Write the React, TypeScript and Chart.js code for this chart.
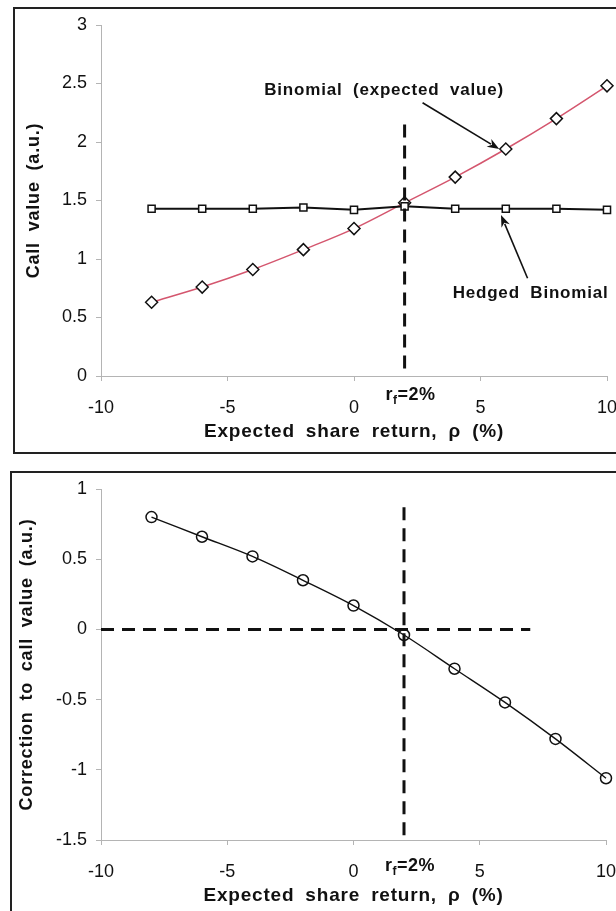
import { useEffect, useRef } from "react";
import { Chart, registerables } from "chart.js";

Chart.register(...registerables);

// Expected share return (%) at which each tree was evaluated
const returns = [-8, -6, -4, -2, 0, 2, 4, 6, 8, 10];
// Call value from the plain binomial tree (expected value)
const binomialExpected = [0.63, 0.76, 0.91, 1.08, 1.26, 1.48, 1.7, 1.94, 2.2, 2.48];
// Call value from the hedged binomial tree
const hedgedBinomial = [1.43, 1.43, 1.43, 1.44, 1.42, 1.45, 1.43, 1.43, 1.43, 1.42];
// Correction to the call value
const correction = [0.8, 0.66, 0.52, 0.35, 0.17, -0.04, -0.28, -0.52, -0.78, -1.06];

const riskFreeRate = 2;
const xTicks = [-10, -5, 0, 5, 10];
const callTicks = [0, 0.5, 1, 1.5, 2, 2.5, 3];
const correctionTicks = [-1.5, -1, -0.5, 0, 0.5, 1];

// Guide lines in data units
const callRateGuide = [2.15, 0.05];
const correctionRateGuide = [0.87, -1.5];
const correctionZeroGuide = [-10, 7];

// Call-out labels with arrows: text centre, arrow tail, arrow tip (data units)
const callNotes = [
  { text: "Binomial (expected value)", at: [1.19, 2.44], from: [2.71, 2.335], to: [5.74, 1.94] },
  { text: "Hedged Binomial", at: [6.98, 0.71], from: [6.86, 0.835], to: [5.81, 1.376] },
];

const FONT = "'Liberation Sans', Arial, Helvetica, sans-serif";
const AXIS_GREY = "#b4b4b4";

type Note = { text: string; at: number[]; from: number[]; to: number[] };

const spacingPlugin = {
  id: "titleSpacing",
  beforeDraw(chart: any) {
    const ctx = chart.ctx as any;
    ctx.letterSpacing = "0.8px";
    ctx.wordSpacing = "5px";
  },
  beforeDatasetsDraw(chart: any) {
    const ctx = chart.ctx as any;
    ctx.letterSpacing = "0px";
    ctx.wordSpacing = "0px";
  },
};

function makeNotesPlugin(notes: Note[], rateLabelGap: number) {
  return {
    id: "notes",
    afterDraw(chart: any) {
      const ctx = chart.ctx as any;
      const xs = chart.scales.x;
      const ys = chart.scales.y;
      ctx.save();
      ctx.letterSpacing = "0.8px";
      ctx.wordSpacing = "5px";
      ctx.fillStyle = "#111";
      ctx.strokeStyle = "#111";
      ctx.font = `bold 17px ${FONT}`;
      ctx.textAlign = "center";
      ctx.textBaseline = "middle";
      for (const n of notes) {
        ctx.fillText(n.text, xs.getPixelForValue(n.at[0]), ys.getPixelForValue(n.at[1]));
        const x0 = xs.getPixelForValue(n.from[0]);
        const y0 = ys.getPixelForValue(n.from[1]);
        const x1 = xs.getPixelForValue(n.to[0]);
        const y1 = ys.getPixelForValue(n.to[1]);
        const ang = Math.atan2(y1 - y0, x1 - x0);
        const len = 12;
        const half = 4.5;
        ctx.lineWidth = 1.6;
        ctx.beginPath();
        ctx.moveTo(x0, y0);
        ctx.lineTo(x1 - Math.cos(ang) * len * 0.8, y1 - Math.sin(ang) * len * 0.8);
        ctx.stroke();
        ctx.beginPath();
        ctx.moveTo(x1, y1);
        ctx.lineTo(
          x1 - Math.cos(ang) * len - Math.sin(ang) * half,
          y1 - Math.sin(ang) * len + Math.cos(ang) * half
        );
        ctx.lineTo(x1 - Math.cos(ang) * len * 0.7, y1 - Math.sin(ang) * len * 0.7);
        ctx.lineTo(
          x1 - Math.cos(ang) * len + Math.sin(ang) * half,
          y1 - Math.sin(ang) * len - Math.cos(ang) * half
        );
        ctx.closePath();
        ctx.fill();
      }
      // r_f = 2% marker under the axis
      ctx.letterSpacing = "0.5px";
      ctx.wordSpacing = "0px";
      ctx.textAlign = "left";
      ctx.textBaseline = "alphabetic";
      const big = `bold 18px ${FONT}`;
      const small = `bold 12px ${FONT}`;
      ctx.font = big;
      const wr = ctx.measureText("r").width;
      const wrest = ctx.measureText("=2%").width;
      ctx.font = small;
      const wf = ctx.measureText("f").width;
      const total = wr + wf + wrest;
      let x = xs.getPixelForValue(riskFreeRate) + 6 - total / 2;
      const base = ys.bottom + rateLabelGap;
      ctx.font = big;
      ctx.fillText("r", x, base);
      x += wr;
      ctx.font = small;
      ctx.fillText("f", x, base + 4);
      x += wf;
      ctx.font = big;
      ctx.fillText("=2%", x, base);
      ctx.restore();
    },
  };
}

const plainNumber = (v: number | string) => String(v);

function xScale(titlePadBottom: number, height: number) {
  return {
    type: "linear" as const,
    min: -10,
    max: 10,
    afterFit: (s: any) => {
      s.height = height;
      s.paddingLeft = 0;
      s.paddingRight = 0;
    },
    afterBuildTicks: (s: any) => {
      s.ticks = xTicks.map((v) => ({ value: v }));
    },
    grid: { drawOnChartArea: false, drawTicks: true, tickLength: 5, color: AXIS_GREY },
    border: { display: true, color: AXIS_GREY, width: 1 },
    ticks: {
      color: "#111",
      font: { family: FONT, size: 18 },
      padding: 16,
      z: 1,
      maxRotation: 0,
      callback: plainNumber,
    },
    title: {
      display: true,
      text: "Expected share return, \u03c1 (%)",
      color: "#111",
      font: { family: FONT, size: 19, weight: "bold" as const },
      padding: { top: 0, bottom: titlePadBottom },
    },
  };
}

function yScale(min: number, max: number, ticks: number[], title: string, titlePadTop: number) {
  return {
    type: "linear" as const,
    min,
    max,
    afterFit: (s: any) => {
      s.width = 101;
      s.paddingTop = 0;
      s.paddingBottom = 0;
    },
    afterBuildTicks: (s: any) => {
      s.ticks = ticks.map((v) => ({ value: v }));
    },
    grid: { drawOnChartArea: false, drawTicks: true, tickLength: 5, color: AXIS_GREY },
    border: { display: true, color: AXIS_GREY, width: 1 },
    ticks: { color: "#111", font: { family: FONT, size: 18 }, padding: 9, z: 1, callback: plainNumber },
    title: {
      display: true,
      text: title,
      color: "#111",
      font: { family: FONT, size: 18, weight: "bold" as const },
      padding: { top: titlePadTop, bottom: 0 },
    },
  };
}

function pts(ys: number[]) {
  return returns.map((x, i) => ({ x, y: ys[i] }));
}

function guide(points: { x: number; y: number }[]) {
  return {
    data: points,
    borderColor: "#111",
    borderWidth: 3,
    borderDash: [13, 8],
    pointRadius: 0,
    showLine: true,
    tension: 0,
  };
}

function callConfig(): any {
  return {
    type: "scatter",
    data: {
      datasets: [
        guide([
          { x: riskFreeRate, y: callRateGuide[0] },
          { x: riskFreeRate, y: callRateGuide[1] },
        ]),
        {
          label: "Hedged Binomial",
          data: pts(hedgedBinomial),
          showLine: true,
          borderColor: "#111",
          borderWidth: 2,
          tension: 0,
          pointStyle: "rect",
          pointRadius: 5,
          pointBackgroundColor: "#fff",
          pointBorderColor: "#111",
          pointBorderWidth: 1.5,
        },
        {
          label: "Binomial (expected value)",
          data: pts(binomialExpected),
          showLine: true,
          borderColor: "#d4566e",
          borderWidth: 1.5,
          cubicInterpolationMode: "monotone",
          pointStyle: "rectRot",
          pointRadius: 6,
          pointBackgroundColor: "#fff",
          pointBorderColor: "#111",
          pointBorderWidth: 1.5,
        },
      ],
    },
    options: {
      responsive: false,
      animation: false,
      clip: false,
      layout: { padding: { left: 0, right: 9, top: 25, bottom: 0 } },
      plugins: { legend: { display: false }, tooltip: { enabled: false } },
      scales: {
        x: xScale(16.6, 84),
        y: yScale(0, 3, callTicks, "Call value (a.u.)", 23),
      },
    },
    plugins: [spacingPlugin, makeNotesPlugin(callNotes, 24)],
  };
}

function correctionConfig(): any {
  return {
    type: "scatter",
    data: {
      datasets: [
        guide([
          { x: riskFreeRate, y: correctionRateGuide[0] },
          { x: riskFreeRate, y: correctionRateGuide[1] },
        ]),
        guide([
          { x: correctionZeroGuide[0], y: 0 },
          { x: correctionZeroGuide[1], y: 0 },
        ]),
        {
          label: "Correction",
          data: pts(correction),
          showLine: true,
          borderColor: "#111",
          borderWidth: 1.4,
          cubicInterpolationMode: "monotone",
          pointStyle: "circle",
          pointRadius: 5.5,
          pointBackgroundColor: "rgba(255,255,255,0)",
          pointBorderColor: "#111",
          pointBorderWidth: 1.5,
        },
      ],
    },
    options: {
      responsive: false,
      animation: false,
      clip: false,
      layout: { padding: { left: 0, right: 10, top: 29, bottom: 0 } },
      plugins: { legend: { display: false }, tooltip: { enabled: false } },
      scales: {
        x: xScale(3.6, 71),
        y: yScale(-1.5, 1, correctionTicks, "Correction to call value (a.u.)", 16),
      },
    },
    plugins: [spacingPlugin, makeNotesPlugin([], 31)],
  };
}

function Panel(props: { top: number; height: number; build: () => any }) {
  const ref = useRef<HTMLCanvasElement | null>(null);
  useEffect(() => {
    if (!ref.current) return;
    const chart = new Chart(ref.current, props.build());
    return () => chart.destroy();
  }, []);
  return (
    <canvas
      ref={ref}
      width={616}
      height={props.height}
      style={{ position: "absolute", left: 0, top: props.top, width: 616, height: props.height }}
    />
  );
}

export default function App() {
  useEffect(() => {
    document.body.style.margin = "0";
  }, []);
  return (
    <div style={{ position: "relative", width: 616, height: 911, overflow: "hidden", background: "#fff" }}>
      <div
        style={{
          position: "absolute",
          left: 13,
          top: 7,
          width: 640,
          height: 443,
          borderLeft: "2px solid #222",
          borderTop: "2px solid #222",
          borderBottom: "2px solid #222",
        }}
      />
      <div
        style={{
          position: "absolute",
          left: 10,
          top: 471,
          width: 640,
          height: 460,
          borderLeft: "2px solid #222",
          borderTop: "2px solid #222",
        }}
      />
      <Panel top={0} height={460} build={callConfig} />
      <Panel top={460} height={451} build={correctionConfig} />
    </div>
  );
}
